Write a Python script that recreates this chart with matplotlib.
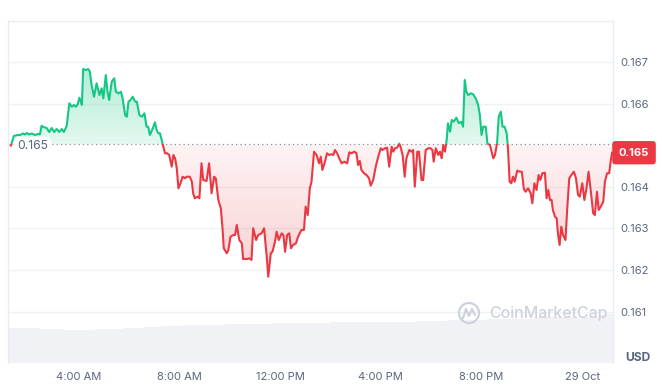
import numpy as np
import matplotlib
matplotlib.use("Agg")
import matplotlib.pyplot as plt
from matplotlib.patches import Rectangle, PathPatch, Circle
from matplotlib.lines import Line2D
from matplotlib.transforms import IdentityTransform

plt.rcParams['font.family'] = ['Inter', 'DejaVu Sans']

# ---------------- data ----------------
# time in minutes since 28 Oct 00:00
minutes = [79, 86, 94, 101, 108, 113, 117, 122, 129, 136,
           144, 148, 152, 156, 164, 170, 176, 182, 188, 194,
           200, 205, 212, 218, 224, 229, 234, 238, 242, 248,
           251, 258, 263, 267, 271, 277, 283, 290, 295, 299,
           305, 309, 313, 319, 325, 329, 335, 341, 345, 351,
           355, 359, 364, 369, 375, 379, 385, 391, 397, 402,
           406, 410, 417, 422, 426, 430, 434, 440, 446, 451,
           456, 462, 466, 470, 474, 478, 483, 488, 494, 498,
           505, 510, 513, 517, 523, 528, 533, 537, 545, 551,
           557, 563, 567, 573, 579, 583, 586, 593, 597, 602,
           609, 613, 617, 623, 629, 632, 641, 647, 652, 656,
           663, 668, 676, 682, 688, 692, 698, 702, 708, 712,
           717, 724, 728, 732, 737, 742, 746, 751, 758, 763,
           771, 777, 781, 786, 791, 795, 801, 807, 813, 817,
           821, 827, 832, 837, 843, 847, 851, 856, 861, 867,
           873, 880, 885, 890, 897, 902, 906, 910, 914, 920,
           926, 932, 936, 942, 948, 954, 960, 964, 970, 975,
           980, 986, 990, 994, 999, 1004, 1007, 1012, 1017, 1021,
           1028, 1033, 1037, 1041, 1047, 1051, 1057, 1061, 1067, 1073,
           1079, 1083, 1086, 1091, 1097, 1101, 1105, 1109, 1113, 1117,
           1120, 1125, 1129, 1134, 1140, 1146, 1152, 1156, 1160, 1164,
           1168, 1175, 1180, 1186, 1192, 1196, 1200, 1204, 1210, 1214,
           1220, 1224, 1228, 1232, 1237, 1241, 1246, 1250, 1255, 1260,
           1263, 1267, 1271, 1275, 1279, 1285, 1291, 1296, 1301, 1305,
           1311, 1317, 1321, 1326, 1331, 1336, 1340, 1345, 1351, 1355,
           1359, 1363, 1367, 1370, 1375, 1379, 1382, 1386, 1390, 1394,
           1400, 1404, 1409, 1414, 1420, 1425, 1430, 1434, 1440, 1445,
           1450, 1455, 1460, 1466, 1470, 1475, 1479, 1484, 1490, 1494,
           1499, 1504, 1508, 1511]

price = [0.164995, 0.165224, 0.165248, 0.165248, 0.165284, 0.165260, 0.165296, 0.165260, 0.165284, 0.165248,
         0.165272, 0.165264, 0.165471, 0.165440, 0.165416, 0.165320, 0.165416, 0.165320, 0.165392, 0.165320,
         0.165392, 0.165320, 0.165471, 0.166010, 0.165928, 0.165969, 0.165928, 0.165986, 0.166144, 0.165969,
         0.166834, 0.166810, 0.166834, 0.166769, 0.166450, 0.166168, 0.166490, 0.166209, 0.166370, 0.166130,
         0.166690, 0.166288, 0.166089, 0.166529, 0.166611, 0.166288, 0.166250, 0.166288, 0.166130, 0.165728,
         0.165687, 0.166048, 0.166089, 0.166168, 0.166048, 0.166048, 0.165728, 0.165687, 0.165769, 0.165447,
         0.165447, 0.165248, 0.165409, 0.165553, 0.165368, 0.165289, 0.165289, 0.165048, 0.164808, 0.164808,
         0.164767, 0.164486, 0.164767, 0.164688, 0.164447, 0.163966, 0.164087, 0.164245, 0.164207, 0.164245,
         0.164245, 0.164125, 0.163846, 0.163726, 0.163764, 0.163726, 0.164567, 0.164166, 0.164142, 0.164567,
         0.163846, 0.164245, 0.164207, 0.163685, 0.163486, 0.163005, 0.162524, 0.162404, 0.162483, 0.162803,
         0.162844, 0.162844, 0.163084, 0.162723, 0.162644, 0.162267, 0.162267, 0.162283, 0.162243, 0.163005,
         0.162723, 0.162844, 0.162884, 0.163005, 0.162363, 0.161841, 0.162404, 0.162442, 0.162682, 0.162923,
         0.162723, 0.162884, 0.162844, 0.162442, 0.162844, 0.162884, 0.162524, 0.162603, 0.162644, 0.162803,
         0.162964, 0.162964, 0.163524, 0.163324, 0.163966, 0.164125, 0.164846, 0.164767, 0.164567, 0.164726,
         0.164406, 0.164606, 0.164808, 0.164767, 0.164784, 0.164767, 0.164887, 0.164808, 0.164688, 0.164567,
         0.164606, 0.164567, 0.164832, 0.164808, 0.164846, 0.164808, 0.164526, 0.164623, 0.164406, 0.164327,
         0.164286, 0.164207, 0.164029, 0.164166, 0.164486, 0.164726, 0.164928, 0.164887, 0.164928, 0.164942,
         0.164486, 0.164966, 0.164846, 0.164928, 0.164942, 0.165043, 0.164966, 0.164767, 0.164245, 0.164688,
         0.164887, 0.164846, 0.164887, 0.164005, 0.164846, 0.164846, 0.164166, 0.164166, 0.164887, 0.164928,
         0.164928, 0.164887, 0.164606, 0.164928, 0.164767, 0.164846, 0.164688, 0.165007, 0.164846, 0.165127,
         0.165529, 0.165327, 0.165608, 0.165567, 0.165663, 0.165529, 0.165567, 0.165447, 0.166570, 0.166288,
         0.166209, 0.166250, 0.166226, 0.166130, 0.165969, 0.165728, 0.165248, 0.165447, 0.165447, 0.165048,
         0.165007, 0.164846, 0.164688, 0.164767, 0.165048, 0.165687, 0.165808, 0.165447, 0.165447, 0.165289,
         0.164928, 0.164125, 0.164087, 0.164245, 0.164125, 0.164389, 0.164365, 0.164365, 0.163942, 0.163884,
         0.163966, 0.163846, 0.163606, 0.164087, 0.163925, 0.164286, 0.164166, 0.164327, 0.164341, 0.163726,
         0.163925, 0.163685, 0.163685, 0.163445, 0.163284, 0.163245, 0.162884, 0.162603, 0.163043, 0.162844,
         0.162723, 0.163445, 0.164207, 0.164286, 0.164365, 0.164207, 0.163805, 0.163764, 0.164087, 0.163685,
         0.163966, 0.164365, 0.163925, 0.163365, 0.163324, 0.163884, 0.163445, 0.163524, 0.163644, 0.164125,
         0.164327, 0.164327, 0.164647, 0.164822]

baseline_price = 0.16502

# volume (millions USD), step segments starting at given minute
vol_start = [72, 148, 205, 279, 346, 396, 436, 491, 589, 698, 839, 1046, 1117, 1213, 1325, 1486]
vol_end_last = 1512
vol_values = [7.00, 6.74, 6.54, 6.74, 6.94, 7.20, 7.40, 7.60, 7.80, 7.94, 8.14, 8.34, 8.54, 8.80, 9.20, 9.74]

x_ticks = [240, 480, 720, 960, 1200, 1440]
x_labels = ['4:00 AM', '8:00 AM', '12:00 PM', '4:00 PM', '8:00 PM', '29 Oct']
y_ticks = [0.161, 0.162, 0.163, 0.164, 0.166, 0.167]

# ---------------- styling ----------------
GREEN = '#16c784'
RED = '#ea3943'
TXT = '#58667e'
GRID = '#eff2f5'

t = np.array(minutes, dtype=float)
p = np.array(price)
xmin, xmax = 72, 1512
ymin, ymax = 0.159774, 0.168

fig = plt.figure(figsize=(6.64, 3.89), dpi=100)
pos = [8 / 664, (389 - 362.7) / 389, 604.5 / 664, 342.2 / 389]

# volume axes (behind)
axv = fig.add_axes(pos, label='volume')
widths = np.diff(vol_start + [vol_end_last])
axv.bar(vol_start, vol_values, width=widths, align='edge', color='#f0f2f5', lw=0)
axv.set_xlim(xmin, xmax)
axv.set_ylim(0, 68.44)
axv.axis('off')

# price axes
ax = fig.add_axes(pos, label='price', facecolor='none')
ax.set_axisbelow(True)

# gradient fill clipped to the area between line and baseline
poly = ax.fill_between(t, p, baseline_price, color='none', lw=0)
clip_patch = PathPatch(poly.get_paths()[0], transform=ax.transData, fc='none', ec='none')
ax.add_patch(clip_patch)

ny = 400
ys = np.linspace(ymin, ymax, ny)
img = np.zeros((ny, 2, 4))
g = np.array([22, 199, 132]) / 255
r = np.array([234, 57, 67]) / 255
for i, yv in enumerate(ys):
    if yv >= baseline_price:
        f = min((yv - baseline_price) / (0.1668 - baseline_price), 1.0)
        img[i, :, :3] = g
        img[i, :, 3] = 0.12 + 0.20 * f
    else:
        f = min((baseline_price - yv) / (baseline_price - 0.1618), 1.0)
        img[i, :, :3] = r
        img[i, :, 3] = 0.06 + 0.18 * f
im = ax.imshow(img, extent=[xmin, xmax, ymin, ymax], origin='lower', aspect='auto',
               interpolation='bilinear', zorder=1)
im.set_clip_path(clip_patch)

# baseline dotted
ax.axhline(baseline_price, color='#8a93a3', lw=0.9, ls=(0, (1, 2.5)), zorder=2)

# lines: green above baseline, red below
ln_g, = ax.plot(t, p, color=GREEN, lw=1.5, zorder=3, solid_joinstyle='round')
ln_g.set_clip_path(Rectangle((xmin, baseline_price), xmax - xmin, ymax - baseline_price,
                             transform=ax.transData))
ln_r, = ax.plot(t, p, color=RED, lw=1.5, zorder=3, solid_joinstyle='round')
ln_r.set_clip_path(Rectangle((xmin, ymin), xmax - xmin, baseline_price - ymin,
                             transform=ax.transData))

ax.set_xlim(xmin, xmax)
ax.set_ylim(ymin, ymax)

# grid & spines
ax.set_yticks(y_ticks)
ax.set_yticklabels([f'{v:.3f}' for v in y_ticks])
ax.grid(axis='y', color=GRID, lw=1)
ax.set_xticks(x_ticks)
ax.set_xticklabels(x_labels)
ax.yaxis.tick_right()
ax.tick_params(axis='y', length=0, pad=5.4, labelsize=8, labelcolor=TXT)
ax.tick_params(axis='x', length=0, pad=7, labelsize=8, labelcolor=TXT)
for s in ['top', 'left', 'right']:
    ax.spines[s].set_color('#e9ecf0')
    ax.spines[s].set_linewidth(1)
ax.spines['bottom'].set_visible(False)

# baseline label on left
ax.annotate(f'{baseline_price:.3f}', xy=(0, baseline_price), xycoords=('axes fraction', 'data'),
            xytext=(9, -2), textcoords='offset pixels', ha='left', va='center',
            color=TXT, fontsize=8.7, zorder=2.5,
            bbox=dict(boxstyle='round,pad=0.3,rounding_size=0.5', fc='white', ec='none'))

# last price label on right
ax.annotate(f'{price[-1]:.3f}', xy=(1, price[-1]), xycoords=('axes fraction', 'data'),
            xytext=(21.5, 0), textcoords='offset pixels', ha='center', va='center',
            color='white', fontsize=8, fontweight='bold', annotation_clip=False, zorder=5,
            bbox=dict(boxstyle='round,pad=0.6,rounding_size=0.3', fc=RED, ec='none'))

# USD label
fig.text(637.5 / 664, (389 - 358) / 389, 'USD', ha='center', va='center',
         color=TXT, fontsize=8.7, fontweight='bold')

# watermark
WM = '#cdd3dc'
fig.text(489 / 664, (389 - 313.5) / 389, 'CoinMarketCap', ha='left', va='center',
         color=WM, fontsize=11.5, fontweight='medium')
cx, cy = 469, 389 - 313
fig.add_artist(Circle((cx, cy), 10, transform=IdentityTransform(), fc='none', ec=WM, lw=1.6))
wx = [cx - 6, cx - 3, cx, cx + 3, cx + 6]
wy = [cy - 5, cy + 4, cy - 3, cy + 4, cy - 2]
fig.add_artist(Line2D(wx, wy, transform=IdentityTransform(), color=WM, lw=1.6,
                      solid_joinstyle='round', solid_capstyle='round'))

fig.savefig('out.png', dpi=100)
